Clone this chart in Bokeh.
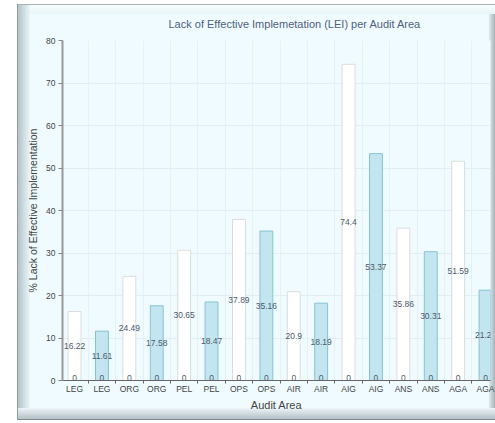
from bokeh.plotting import figure
from bokeh.models import FixedTicker, ColumnDataSource, Range1d
from bokeh.embed import file_html
from bokeh.resources import INLINE
from bokeh.core.properties import value

# ---- data ----
areas = ["LEG", "LEG", "ORG", "ORG", "PEL", "PEL", "OPS", "OPS",
         "AIR", "AIR", "AIG", "AIG", "ANS", "ANS", "AGA", "AGA"]
lei = [16.22, 11.61, 24.49, 17.58, 30.65, 18.47, 37.89, 35.16,
       20.9, 18.19, 74.4, 53.37, 35.86, 30.31, 51.59, 21.24]
y_ticks = [0, 10, 20, 30, 40, 50, 60, 70, 80]

xs = list(range(len(areas)))
fills = ["#ffffff" if i % 2 == 0 else "#c3e5f0" for i in xs]
lines = ["#dcdcdc" if i % 2 == 0 else "#86c2d4" for i in xs]
src = ColumnDataSource(dict(
    x=xs, top=lei, mid=[v / 2 for v in lei], label=[str(v) for v in lei],
    zero=[0] * len(xs), zlabel=["0"] * len(xs), fill=fills, line=lines,
))

FONT = "Liberation Sans"
p = figure(width=495, height=423, output_backend="svg", toolbar_location=None,
           x_range=Range1d(-0.44, 15.18), y_range=Range1d(0, 80),
           min_border_left=62, min_border_right=5, min_border_top=40,
           min_border_bottom=43,
           title="Lack of Effective Implemetation (LEI) per Audit Area")

p.border_fill_color = None
p.background_fill_color = "#effbfe"
p.outline_line_color = None

def solid(c):
    return f"linear-gradient({c},{c})"

p.styles = {
    "background": ", ".join([
        solid("#ffffff") + " 0 0 / 17px 100% no-repeat",
        solid("#ffffff") + " 0 0 / 100% 4px no-repeat",
        solid("#ffffff") + " 0 420px / 100% 3px no-repeat",
        solid("#8e9ca2") + " 17px 0 / 1px 100% no-repeat",
        solid("#a4b1b7") + " 0 4px / 100% 1px no-repeat",
        solid("#7f8d93") + " 0 419px / 100% 1px no-repeat",
        "linear-gradient(to bottom, #edf5f8, #b3c0c6) 0 408px / 100% 11px no-repeat",
        "linear-gradient(to right, #b4c3c9, #eaf6f9) 18px 0 / 12px 100% no-repeat",
        "linear-gradient(to bottom, #f7fcfd, #e8f5f9) 0 5px / 100% 9px no-repeat",
        "linear-gradient(to right, #e0eaee, #a6b4ba) 489px 0 / 6px 100% no-repeat",
        "#effbfe",
    ]),
}

p.title.align = "left"
p.title.offset = 106
p.title.standoff = 21
p.title.text_font = FONT
p.title.text_font_size = "11px"
p.title.text_font_style = "normal"
p.title.text_color = "#4f5f80"

p.vbar(x="x", top="top", width=0.47, source=src, fill_color="fill",
       line_color="line", line_width=1)

p.text(x="x", y="mid", text="label", source=src, text_align="center",
       text_baseline="middle", text_font=value(FONT), text_font_size="8.5px",
       text_color="#4c5a6a")
p.text(x="x", y="zero", text="zlabel", source=src, text_align="center",
       text_baseline="bottom", text_font=value(FONT), text_font_size="8.5px",
       text_color="#4c5a6a")

# axes
p.xaxis.ticker = FixedTicker(ticks=xs, minor_ticks=[i + 0.5 for i in range(-1, 16)])
p.xaxis.major_label_overrides = {i: a for i, a in enumerate(areas)}
p.xaxis.major_tick_line_color = None
p.xaxis.major_tick_in = 0
p.xaxis.major_tick_out = 0
p.xaxis.minor_tick_in = 0
p.xaxis.minor_tick_out = 3
p.xaxis.minor_tick_line_color = "#666666"
p.xaxis.axis_line_color = "#666666"
p.xaxis.axis_line_width = 1
p.xaxis.major_label_standoff = 0
p.xaxis.axis_label = "Audit Area"
p.xaxis.axis_label_standoff = 2

p.yaxis.ticker = FixedTicker(ticks=y_ticks)
p.yaxis.minor_tick_line_color = None
p.yaxis.major_tick_in = 0
p.yaxis.major_tick_out = 4
p.yaxis.major_tick_line_color = "#888888"
p.yaxis.axis_line_color = "#999999"
p.yaxis.axis_line_width = 2
p.yaxis.major_label_standoff = 3
p.yaxis.axis_label = "% Lack of Effective Implementation"
p.yaxis.axis_label_standoff = 4

for ax in (p.xaxis[0], p.yaxis[0]):
    ax.major_label_text_font = FONT
    ax.major_label_text_font_size = "8.5px"
    ax.major_label_text_color = "#444444"
    ax.axis_label_text_font = FONT
    ax.axis_label_text_font_style = "normal"
    ax.axis_label_text_color = "#444444"
p.xaxis.axis_label_text_font_size = "11px"
p.yaxis.axis_label_text_font_size = "10.5px"

p.ygrid.grid_line_color = "#e2eef3"
p.xgrid.grid_line_color = None
p.xgrid.minor_grid_line_color = "#e6f1f5"

open("out.html", "w").write(file_html(p, INLINE))
